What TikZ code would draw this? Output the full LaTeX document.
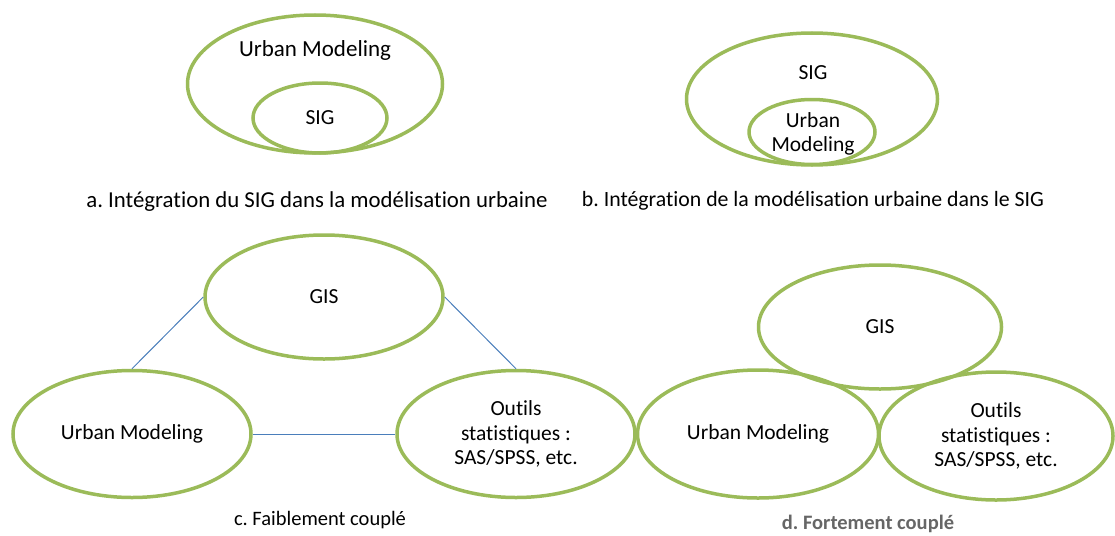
\documentclass[tikz,border=0pt]{standalone}
\usepackage{fontspec}
\setmainfont{Carlito}[Ligatures=NoCommon]
\usetikzlibrary{shapes.geometric}
\definecolor{olivegreen}{HTML}{9BBB59}
\definecolor{linkblue}{HTML}{4A7EBB}
\definecolor{capgray}{HTML}{666666}
\tikzset{
    bubble/.style={ellipse, draw=olivegreen, line width=3.5pt, inner sep=0pt},
    link/.style={draw=linkblue, line width=1pt},
    lbl/.style={font=\fontsize{21.5}{24.5}\selectfont, align=center},
    captxt/.style={font=\fontsize{20.5}{24}\selectfont},
}
\frenchspacing
\begin{document}
\begin{tikzpicture}[x=1pt, y=-1pt]
    \useasboundingbox (0, 0) rectangle (1115, 535);
        % a. SIG inside urban modeling
        \node[bubble, minimum width=255, minimum height=138] (aout) at (315, 84) {};
        \node[bubble, minimum width=134, minimum height=70] (ain) at (320, 118) {};
        \node[lbl, font=\fontsize{23}{27}\selectfont] (aoutlbl) at (315, 50) {Urban Modeling};
        \node[lbl] (ainlbl) at (320, 118) {SIG};
        \node[captxt, font=\fontsize{22.8}{26}\selectfont] (capa) at (317, 202) {a. Intégration du SIG dans la modélisation urbaine};
        % b. urban modeling inside SIG
        \node[bubble, minimum width=251, minimum height=132] (bout) at (812, 99) {};
        \node[bubble, minimum width=126, minimum height=65] (bin) at (812, 132) {};
        \node[lbl] (boutlbl) at (813, 73) {SIG};
        \node[lbl] (binlbl) at (813, 134) {Urban\\Modeling};
        \node[captxt, font=\fontsize{21.8}{26}\selectfont] (capb) at (813, 201) {b. Intégration de la modélisation urbaine dans le SIG};
        % c. loosely coupled
        \node[bubble, lbl, minimum width=238, minimum height=124] (gisc) at (324, 297) {GIS};
        \node[bubble, lbl, minimum width=238, minimum height=127] (umc) at (132, 434) {Urban Modeling};
        \node[bubble, lbl, minimum width=238, minimum height=127] (outc) at (516, 434) {Outils\\statistiques :\\SAS/SPSS, etc.};
        \draw[link] (gisc.west) -- (umc.north);
        \draw[link] (gisc.east) -- (outc.north);
        \draw[link] (umc.east) -- (outc.west);
        \node[captxt] (capc) at (320, 520) {c. Faiblement couplé};
        % d. strongly coupled
        \node[bubble, lbl, minimum width=243, minimum height=124] (gisd) at (880, 327) {GIS};
        \node[bubble, lbl, minimum width=241, minimum height=128] (umd) at (758, 434) {Urban Modeling};
        \node[bubble, lbl, minimum width=234, minimum height=128] (outd) at (996, 436) {Outils\\statistiques :\\SAS/SPSS, etc.};
        \node[captxt, font=\fontsize{20.5}{24}\selectfont\bfseries, text=capgray] (capd) at (868, 524) {d. Fortement couplé};
    \end{tikzpicture}
\end{document}
